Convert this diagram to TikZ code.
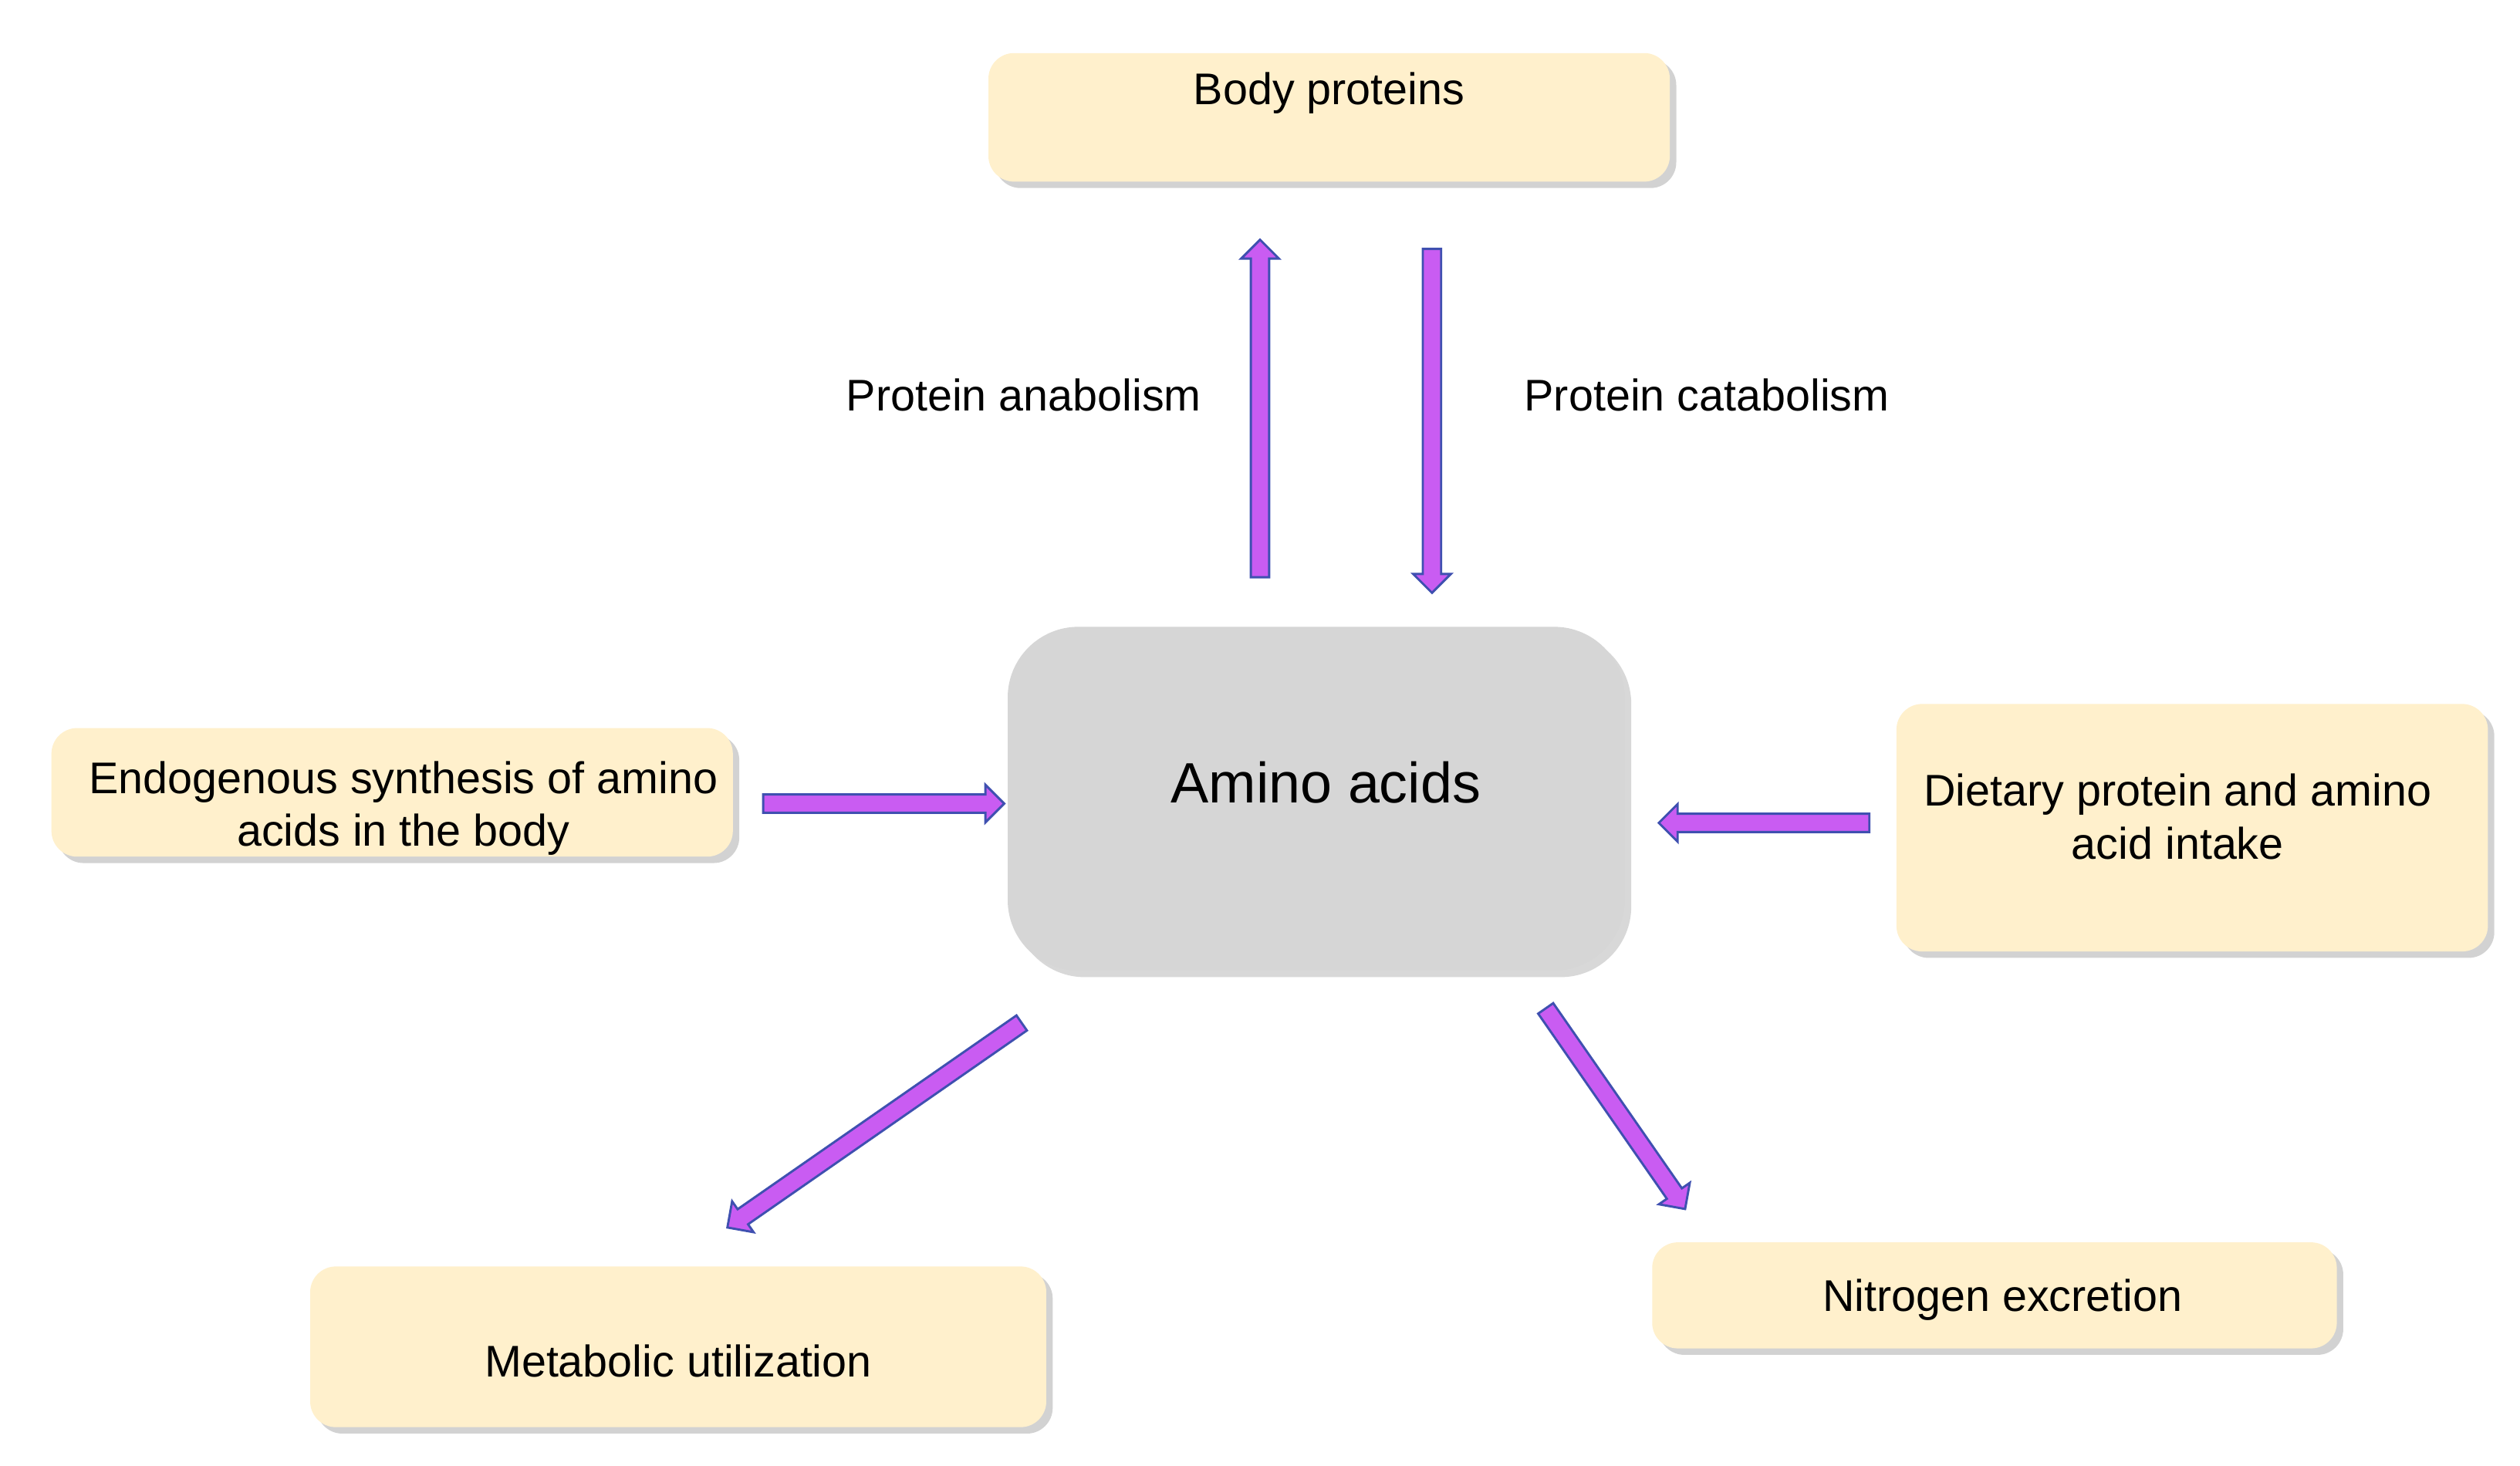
\documentclass[tikz,border=0pt]{standalone}
\usepackage{fontspec}
\setmainfont{Liberation Sans}
\usetikzlibrary{shapes.arrows,shadows}
\definecolor{boxfill}{HTML}{FFF0CC}
\definecolor{arrfill}{HTML}{C95CF2}
\definecolor{arrline}{HTML}{3F50B0}
\begin{document}
\begin{tikzpicture}[x=0.5pt,y=-0.5pt,
  box/.style={draw=none,fill=boxfill,rounded corners=8pt,
    drop shadow={shadow xshift=2pt,shadow yshift=-2pt,fill=black!35}},
  arr/.style={single arrow,draw=arrline,fill=arrfill,line width=0.7pt,text height=5pt,text depth=0pt,
    single arrow head extend=3pt,single arrow head indent=0pt,inner sep=0pt,text width=0pt,anchor=center},
  lbl/.style={font=\fontsize{13.8}{16.5}\selectfont,align=center}]
\useasboundingbox (0,0) rectangle (1568,912);
\node[box,minimum width=212pt,minimum height=40pt] (bp) at (827,73) {};
\node[lbl] (bpt) at (827,58) {Body proteins};
\node[draw=none,fill=black!16,rounded corners=22pt,minimum width=192pt,minimum height=107pt,
  drop shadow={shadow xshift=2pt,shadow yshift=-2pt,fill=black!30}] (aa) at (819,497) {};
\node[font=\fontsize{17.7}{21}\selectfont] (aat) at (825,487) {Amino acids};
\node[box,minimum width=212pt,minimum height=40pt] (en) at (244,493) {};
\node[lbl] (ent) at (251,503) {Endogenous synthesis of amino\\acids in the body};
\node[box,minimum width=184pt,minimum height=77pt] (di) at (1364,515) {};
\node[lbl] (dit) at (1355,508) {Dietary protein and amino\\acid intake};
\node[box,minimum width=229pt,minimum height=50pt] (mu) at (422,838) {};
\node[lbl] (mut) at (422,847) {Metabolic utilization};
\node[box,minimum width=213pt,minimum height=33pt] (ne) at (1241,806) {};
\node[lbl] (net) at (1246,809) {Nitrogen excretion};
\node[arr,minimum height=105pt,rotate=90] (a1) at (784,257) {};
\node[arr,minimum height=107pt,rotate=-90] (a2) at (891,259) {};
\node[arr,minimum height=75pt,rotate=0] (a3) at (547,500) {};
\node[arr,minimum height=65.5pt,rotate=180] (a4) at (1100.5,512) {};
\node[arr,minimum height=111.5pt,rotate=214.8] (a5) at (546.5,698.5) {};
\node[arr,minimum height=76pt,rotate=-55.2] (a6) at (1003.5,687.5) {};
\node[lbl] (l1) at (637,246) {Protein anabolism};
\node[lbl] (l2) at (1062,246) {Protein catabolism};
\end{tikzpicture}
\end{document}
